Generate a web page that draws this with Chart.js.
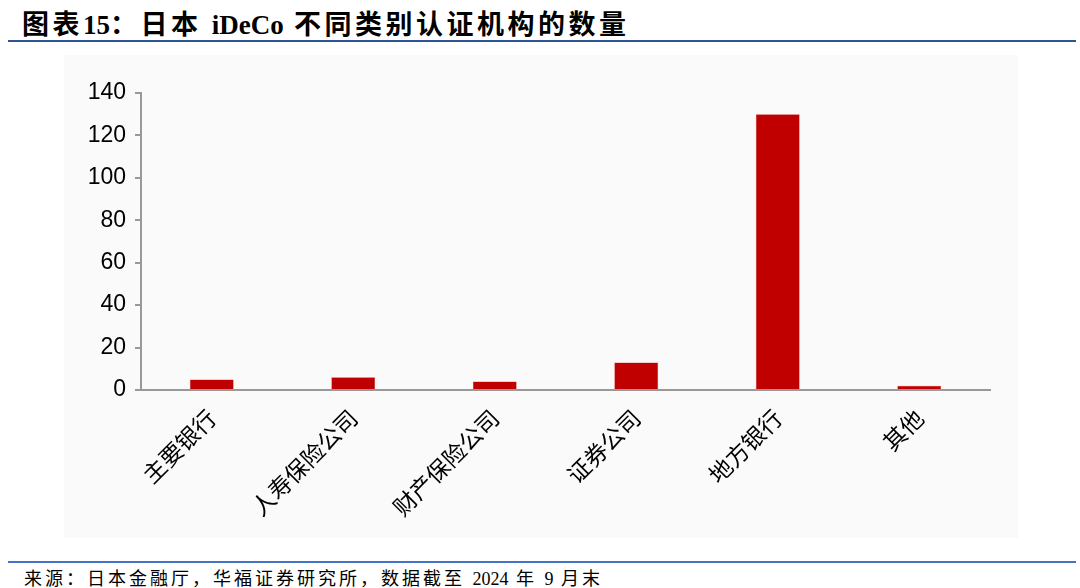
<!DOCTYPE html>
<html>
<head>
<meta charset="utf-8">
<script src="https://cdn.jsdelivr.net/npm/chart.js@4.4.1/dist/chart.umd.min.js"></script>
<style>
  html, body { margin: 0; padding: 0; background: #fff; }
  body { width: 1080px; height: 588px; position: relative; overflow: hidden; }
  #title {
    position: absolute; left: 22px; top: 3px;
    font-family: "Liberation Serif", "Noto Sans CJK SC", serif;
    font-weight: bold; font-size: 27px; color: #000; letter-spacing: 3.5px;
  }
  #topline { position: absolute; left: 8px; top: 40px; width: 1068px; height: 2px; background: #2f5597; }
  #box { position: absolute; left: 64px; top: 55px; width: 954px; height: 483px; background: #fafafa; }
  #botline { position: absolute; left: 8px; top: 561px; width: 1068px; height: 2px; background: #4472c4; }
  #source {
    position: absolute; left: 24px; top: 564px;
    font-family: "Liberation Serif", "Noto Sans CJK SC", serif;
    font-size: 18px; color: #000; letter-spacing: 3px;
  }
  .lat { letter-spacing: 0; }
</style>
</head>
<body>
<div id="title">图表<span class="lat">15</span>：日本 <span class="lat">iDeCo</span> 不同类别认证机构的数量</div>
<div id="topline"></div>
<div id="box"><canvas id="NumChart" width="954" height="483"></canvas></div>
<div id="botline"></div>
<div id="source">来源：日本金融厅，华福证券研究所，数据截至 <span class="lat">2024</span> 年 <span class="lat">9</span> 月末</div>

<script>
    var categories = ['主要银行', '人寿保险公司', '财产保险公司', '证券公司', '地方银行', '其他'];
    var counts = [5, 6, 4, 13, 130, 2];
    var yTicks = [0, 20, 40, 60, 80, 100, 120, 140];

    new Chart(document.getElementById('NumChart'), {
        type: 'bar',
        data: {
            labels: categories,
            datasets: [
                {
                    label: "数量",
                    backgroundColor: "#c00000",
                    borderColor: "#e04040",
                    borderWidth: 0.5,
                    data: counts,
                    categoryPercentage: 1,
                    barPercentage: 0.31
                }
            ]
        },
        options: {
            responsive: false,
            animation: false,
            layout: { padding: { top: 38, right: 28, left: 0, bottom: 0 } },
            plugins: {
                legend: { display: false },
                tooltip: { enabled: false }
            },
            scales: {
                x: {
                    grid: { display: false },
                    border: { color: '#999', width: 2 },
                    ticks: {
                        color: '#000',
                        maxRotation: 45,
                        minRotation: 45,
                        padding: 6,
                        font: { family: '"Noto Sans CJK SC"', size: 23 }
                    },
                    afterFit: function (scale) { scale.height = 148; }
                },
                y: {
                    min: 0,
                    max: 140,
                    afterBuildTicks: function (scale) {
                        scale.ticks = yTicks.map(function (v) { return { value: v }; });
                    },
                    grid: { drawOnChartArea: false, color: '#999', tickLength: 6, lineWidth: 2 },
                    border: { color: '#999', width: 2 },
                    ticks: {
                        color: '#000',
                        padding: 9,
                        font: { family: '"Liberation Sans", Arial', size: 23 }
                    },
                    afterFit: function (scale) { scale.width = 77; }
                }
            }
        }
    });
</script>
</body>
</html>
